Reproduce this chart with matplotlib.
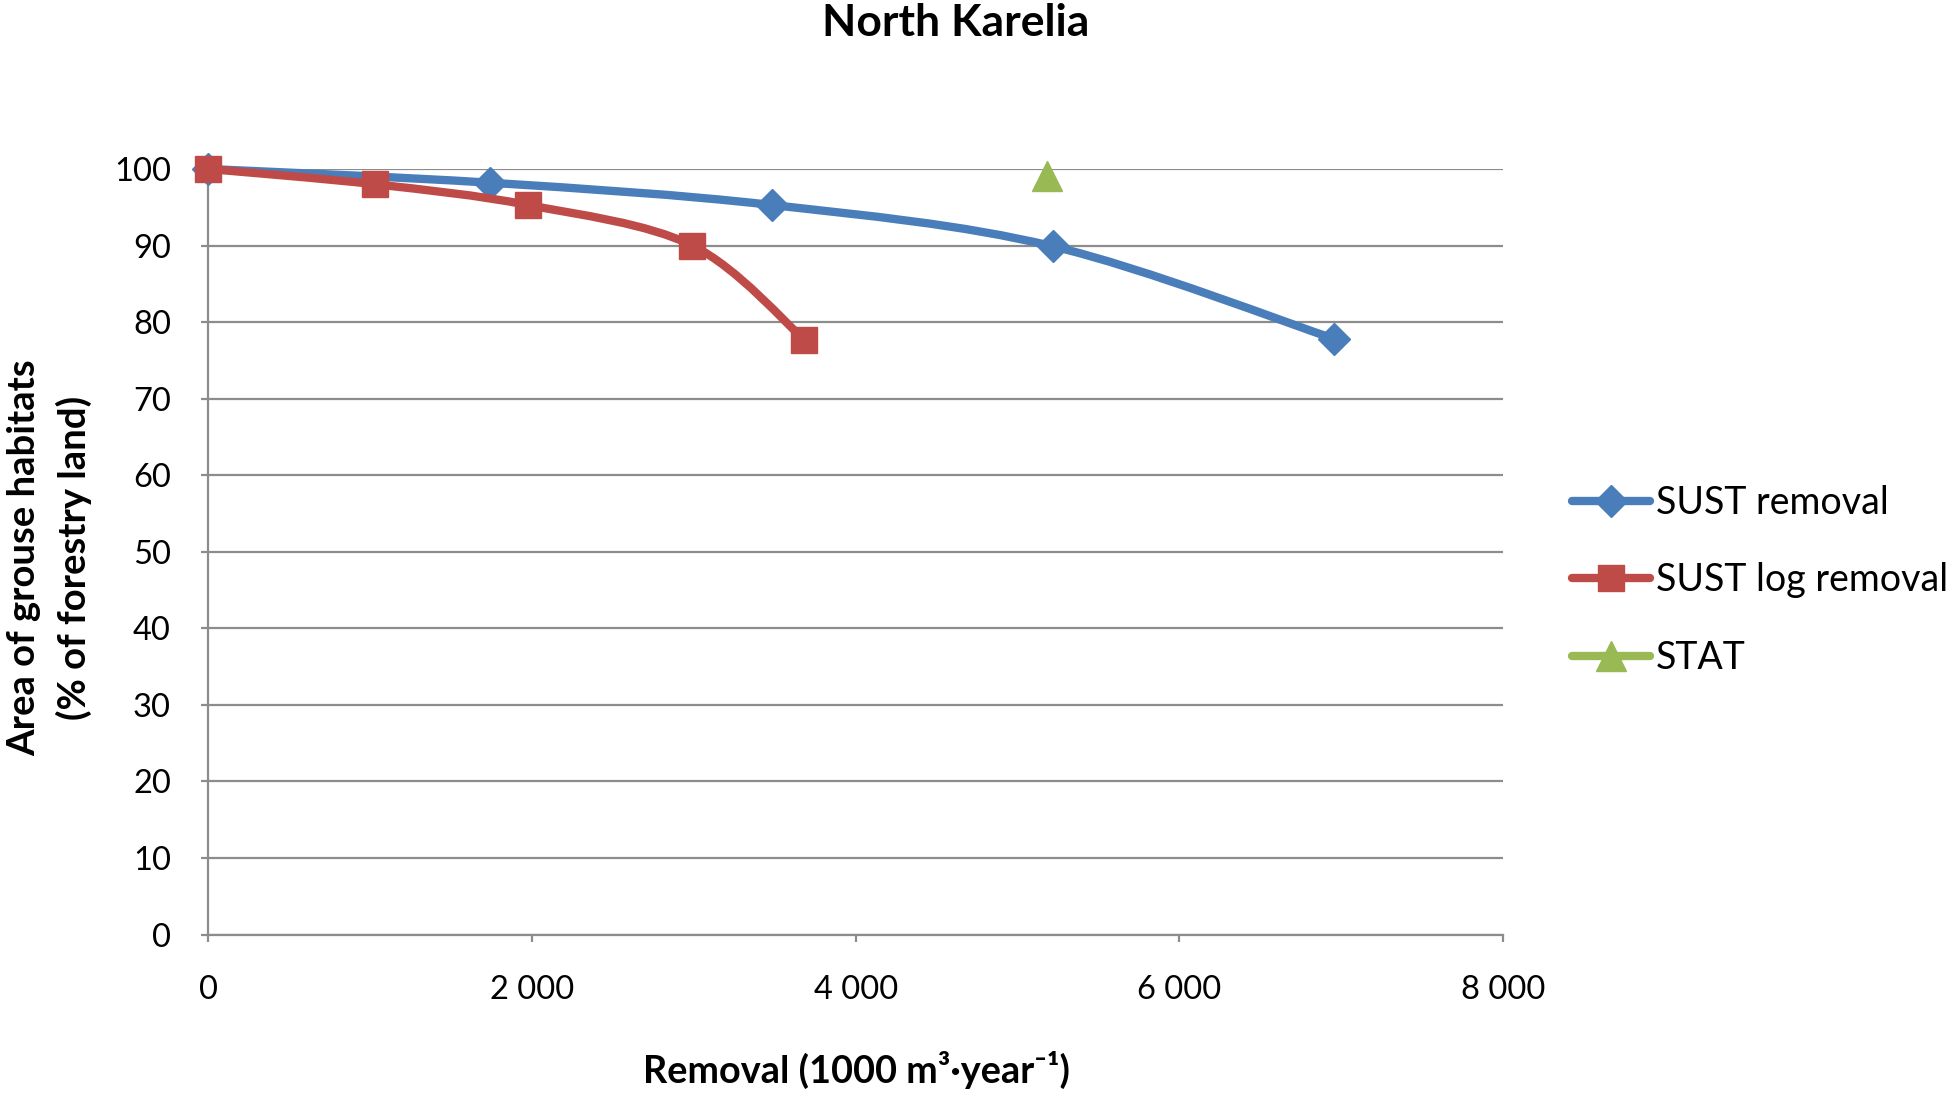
import matplotlib
matplotlib.use('Agg')
import matplotlib.pyplot as plt
import numpy as np
from matplotlib.path import Path
from matplotlib.patches import PathPatch
from matplotlib.lines import Line2D

# data
sust_x = [0, 1742, 3480, 5218, 6958]
sust_y = [100, 98.2, 95.3, 89.9, 77.8]
log_x = [0, 1030, 1973, 2990, 3683]
log_y = [100, 98.0, 95.3, 90.0, 77.7]
stat_x = [5180]
stat_y = [99.1]

labels = ["SUST removal", "SUST log removal", "STAT"]
xticks = [0, 2000, 4000, 6000, 8000]
xticklabels = ["0", "2 000", "4 000", "6 000", "8 000"]
yticks = list(range(0, 101, 10))

BLUE = '#4a7ebb'
RED = '#be4b48'
GREEN = '#98b954'
GRID = '#8c8c8c'

plt.rcParams['font.family'] = ['Lato', 'DejaVu Sans']


def smooth_path(xs, ys):
    # excel-like smoothed line: bezier segments with catmull-rom control points
    p = np.column_stack([xs, ys]).astype(float)
    n = len(p)
    verts = [p[0]]
    codes = [Path.MOVETO]
    for i in range(n - 1):
        p0 = p[i - 1] if i > 0 else p[i]
        p3 = p[i + 2] if i + 2 < n else p[i + 1]
        c1 = p[i] + (p[i + 1] - p0) / 6
        c2 = p[i + 1] - (p3 - p[i]) / 6
        verts += [c1, c2, p[i + 1]]
        codes += [Path.CURVE4] * 3
    return Path(verts, codes)


fig = plt.figure(figsize=(19.46, 10.93), dpi=100)
ax = fig.add_axes([0.1071, 0.145, 0.6653, 0.7004])

lw = 6
for xs, ys, c, z in [(sust_x, sust_y, BLUE, 3), (log_x, log_y, RED, 5)]:
    patch = PathPatch(smooth_path(xs, ys), facecolor='none', edgecolor=c,
                      lw=lw, capstyle='round', joinstyle='round', zorder=z,
                      transform=ax.transData, clip_on=False)
    ax.add_patch(patch)

ax.plot(sust_x, sust_y, linestyle='none', marker='D', ms=16, color=BLUE,
        zorder=4, clip_on=False)
ax.plot(log_x, log_y, linestyle='none', marker='s', ms=19, color=RED,
        zorder=6, clip_on=False)
ax.plot(stat_x, stat_y, linestyle='none', marker='^', ms=22, color=GREEN,
        zorder=7, clip_on=False)

ax.set_xlim(0, 8000)
ax.set_ylim(0, 100)
ax.set_xticks(xticks)
ax.set_xticklabels(xticklabels)
ax.set_yticks(yticks)

ax.yaxis.grid(True, color=GRID, lw=1.6)
ax.set_axisbelow(True)
for s in ['top', 'right']:
    ax.spines[s].set_visible(False)
for s in ['left', 'bottom']:
    ax.spines[s].set_color(GRID)
    ax.spines[s].set_linewidth(1.6)
ax.tick_params(axis='both', colors=GRID, width=1.6, length=5, labelsize=23.5,
               labelcolor='black')
ax.tick_params(axis='y', pad=22)
ax.tick_params(axis='x', pad=24)

fig.text(0.491, 0.979, "North Karelia", ha='center', va='center',
         fontsize=32, fontweight='bold')
fig.text(0.44, 0.021, "Removal (1000 m³·year⁻¹)", ha='center', va='center',
         fontsize=27.3, fontweight='bold')
fig.text(0.0255, 0.4895, "Area of grouse habitats\n(% of forestry land)",
         ha='center', va='center', rotation=90, fontsize=27.5,
         fontweight='bold', multialignment='center', linespacing=1.5)

handles = [
    Line2D([], [], color=BLUE, lw=lw, marker='D', ms=16, solid_capstyle='round'),
    Line2D([], [], color=RED, lw=lw, marker='s', ms=19, solid_capstyle='round'),
    Line2D([], [], color=GREEN, lw=lw, marker='^', ms=22, solid_capstyle='round'),
]
fig.legend(handles, labels, loc='center left', bbox_to_anchor=(0.8076, 0.469),
           frameon=False, fontsize=27, handlelength=2.1, handletextpad=0.15,
           labelspacing=1.1, numpoints=1, borderpad=0, borderaxespad=0)

fig.savefig('out.png', dpi=100)
